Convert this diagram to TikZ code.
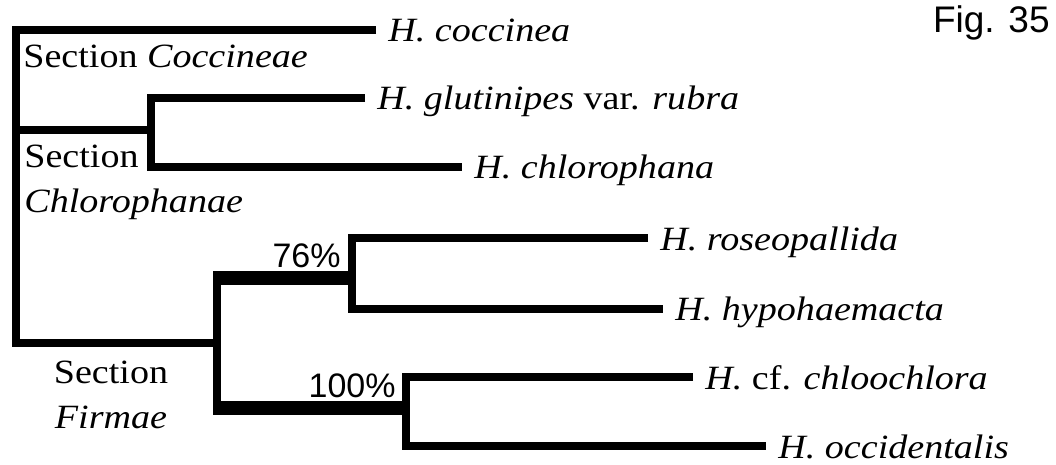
\documentclass[tikz,border=0pt]{standalone}
\usepackage{fontspec}
\setmainfont{Liberation Serif}[FakeStretch=1.12]
\newfontfamily\figfont{Liberation Sans}
\usetikzlibrary{calc}
\tikzset{
  branch/.style={line width=4pt, line join=miter},
  boldbranch/.style={line width=7pt},
  taxon/.style={anchor=west, inner xsep=6pt, inner ysep=0pt, text height=12pt, text depth=0pt, font=\fontsize{17pt}{20pt}\selectfont},
  section/.style={inner sep=0pt, font=\fontsize{17pt}{22.5pt}\selectfont},
  support/.style={anchor=base east, inner sep=0pt, font=\figfont\fontsize{17pt}{20pt}\selectfont}
}

\begin{document}
\begin{tikzpicture}[x=0.5pt, y=-0.5pt]
        \useasboundingbox (0,0) rectangle (1056,465);

        % Taxa at the tips
        \node[taxon] (coc) at (376,30) {\textit{H. coccinea}};
        \node[taxon] (glu) at (365,98) {\textit{H. glutinipes} var. \textit{rubra}};
        \node[taxon] (chp) at (462,167) {\textit{H. chlorophana}};
        \node[taxon] (ros) at (648,238) {\textit{H. roseopallida}};
        \node[taxon] (hyp) at (663,309) {\textit{H. hypohaemacta}};
        \node[taxon] (chc) at (693,377) {\textit{H.} cf. \textit{chloochlora}};
        \node[taxon] (occ) at (766,446) {\textit{H. occidentalis}};

        % Internal nodes
        \coordinate (root) at (16,343);
        \coordinate (chl) at (151,130);
        \coordinate (fir) at (217,343);
        \coordinate (b76) at (352,278);
        \coordinate (b100) at (406,408);

        % Branches
        \draw[branch] (coc.west) -| (root) -- (fir);
        \draw[branch] (root |- chl) -- (chl);
        \draw[branch] (glu.west) -| (chl) |- (chp.west);
        \draw[branch, shorten <=-3.5pt, shorten >=-3.5pt] (fir |- b76) -- (fir |- b100);
        \draw[boldbranch, shorten <=-2pt] (fir |- b76) -- (b76);
        \draw[boldbranch, shorten <=-2pt] (fir |- b100) -- (b100);
        \draw[branch] (ros.west) -| (b76) |- (hyp.west);
        \draw[branch] (chc.west) -| (b100) |- (occ.west);

        % Section labels
        \node[section, anchor=base west] (seccoc) at (23,68) {Section \textit{Coccineae}};
        \node[section, anchor=north west, align=left] (secchl) at (24,145) {Section\\\textit{Chlorophanae}};
        \node[section, anchor=north, align=center] (secfir) at (111,361) {Section\\\textit{Firmae}};

        % Support values
        \node[support] (s76) at (341,267) {76\%};
        \node[support] (s100) at (396,397) {100\%};

        \node[anchor=base east, inner sep=0pt, font=\figfont\fontsize{18.5pt}{22pt}\selectfont] (fig) at (1050,33) {Fig. 35};
    \end{tikzpicture}
\end{document}
